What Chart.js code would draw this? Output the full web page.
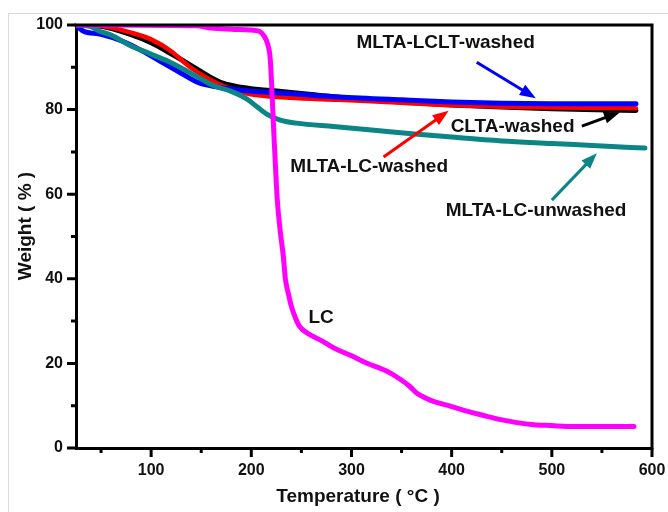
<!DOCTYPE html>
<html lang="en">
  <head>
    <meta charset="UTF-8" />
    <title>TGA curves</title>
    <style>
      body {
        margin: 0;
        background: #ffffff;
        font-family: "Liberation Sans", Arial, sans-serif;
      }
      .frame {
        position: absolute;
        left: 8px;
        top: 13px;
        width: 700px;
        height: 600px;
        border: 1px solid #d9d9d9;
      }
      #tga {
        position: absolute;
        left: 0;
        top: 0;
      }
    </style>
  </head>
  <body>
    <div class="frame"></div>
    <canvas id="tga" width="668" height="512"></canvas>

    <script src="https://cdn.jsdelivr.net/npm/chart.js"></script>
    <script>
      // Temperature (°C) / weight (%)
      const lcTemp = [25, 145, 160, 180, 200, 208, 213, 216, 219, 221, 223, 226, 229, 232, 234, 237, 240, 244, 248, 255, 270, 282, 300, 315, 335, 349, 358, 365, 375, 382, 400, 415, 430, 449, 465, 482, 500, 515, 582];
      const lcWeight = [100, 99.8, 99.3, 99.0, 98.8, 98.5, 97.3, 95.7, 91.7, 82.2, 72, 58.5, 51, 45.3, 40, 36.5, 33.5, 30.8, 28.8, 27.3, 25.4, 23.7, 21.8, 20.1, 18.2, 16.2, 14.6, 13.0, 11.7, 11.0, 9.8, 8.7, 7.8, 6.7, 6.0, 5.5, 5.3, 5.1, 5.1];

      const lcltTemp = [25, 32, 50, 70, 90, 110, 130, 148, 165, 198, 238, 288, 350, 400, 450, 500, 584];
      const lcltWeight = [100, 98.6, 97.8, 96.3, 94.0, 91.3, 88.6, 86.3, 85.4, 84.4, 83.8, 83.0, 82.3, 81.8, 81.5, 81.4, 81.4];

      const lcWashedTemp = [25, 55, 80, 100, 120, 138, 158, 178, 198, 238, 288, 350, 400, 450, 500, 584];
      const lcWashedWeight = [100, 99.6, 98.2, 96.6, 93.8, 90.2, 87.2, 85.0, 83.7, 82.8, 82.3, 81.6, 81.0, 80.7, 80.5, 80.3];

      const cltaTemp = [25, 50, 80, 100, 120, 138, 158, 170, 198, 230, 260, 300, 350, 400, 450, 500, 584];
      const cltaWeight = [100, 99.7, 97.7, 95.8, 93.2, 90.7, 87.8, 86.4, 85.0, 84.3, 83.6, 82.6, 81.8, 81.1, 80.6, 80.2, 79.8];

      const unwashedTemp = [25, 40, 48, 60, 78, 98, 118, 148, 160, 180, 195, 205, 215, 228, 245, 282, 320, 360, 400, 450, 500, 550, 593];
      const unwashedWeight = [100, 99.6, 98.6, 97.6, 95.3, 93.3, 91.3, 87.5, 85.9, 84.3, 82.6, 80.8, 79.0, 77.6, 76.8, 76.0, 75.2, 74.3, 73.5, 72.6, 72.0, 71.4, 70.9];

      const xTicks = [100, 200, 300, 400, 500, 600];
      const xMinorTicks = [50, 150, 250, 350, 450, 550];
      const yTicks = [0, 20, 40, 60, 80, 100];
      const yMinorTicks = [10, 30, 50, 70, 90];

      // label text with its anchor (temperature, weight)
      const noteText = ["MLTA-LCLT-washed", "CLTA-washed", "MLTA-LC-washed", "MLTA-LC-unwashed", "LC"];
      const noteAt = [[305, 95.8], [399, 75.9], [239, 66.6], [394, 56], [257, 30.7]];

      // arrows: from -> to, in data units
      const arrowFrom = [[425, 91.2], [530, 76.1], [332, 68.8], [500, 58.6]];
      const arrowTo = [[484, 82.7], [568, 79.4], [397, 79.7], [545, 69.7]];
      const arrowColor = ["#0000ff", "#000000", "#ff0000", "#0b8585"];

      const toPoints = (xs, ys) => xs.map((x, i) => ({ x: x, y: ys[i] }));

      function drawArrow(ctx, x1, y1, x2, y2, color) {
        const ang = Math.atan2(y2 - y1, x2 - x1);
        const head = 16;
        const half = 6;
        ctx.save();
        ctx.strokeStyle = color;
        ctx.fillStyle = color;
        ctx.lineWidth = 3;
        ctx.beginPath();
        ctx.moveTo(x1, y1);
        ctx.lineTo(x2 - Math.cos(ang) * head * 0.8, y2 - Math.sin(ang) * head * 0.8);
        ctx.stroke();
        ctx.beginPath();
        ctx.moveTo(x2, y2);
        ctx.lineTo(
          x2 - Math.cos(ang) * head - Math.sin(ang) * half,
          y2 - Math.sin(ang) * head + Math.cos(ang) * half
        );
        ctx.lineTo(
          x2 - Math.cos(ang) * head + Math.sin(ang) * half,
          y2 - Math.sin(ang) * head - Math.cos(ang) * half
        );
        ctx.closePath();
        ctx.fill();
        ctx.restore();
      }

      const decor = {
        id: "decor",
        afterDraw(chart) {
          const ctx = chart.ctx;
          const xs = chart.scales.x;
          const ys = chart.scales.y;
          const area = chart.chartArea;

          ctx.save();
          ctx.strokeStyle = "#000";
          ctx.lineWidth = 3;
          ctx.lineCap = "square";

          // top and right frame
          ctx.beginPath();
          ctx.moveTo(area.left, area.top);
          ctx.lineTo(area.right, area.top);
          ctx.lineTo(area.right, area.bottom);
          ctx.stroke();

          // outward ticks
          ctx.lineCap = "butt";
          ctx.beginPath();
          xTicks.forEach((v) => {
            const px = xs.getPixelForValue(v);
            ctx.moveTo(px, area.bottom);
            ctx.lineTo(px, area.bottom + 9);
          });
          xMinorTicks.forEach((v) => {
            const px = xs.getPixelForValue(v);
            ctx.moveTo(px, area.bottom);
            ctx.lineTo(px, area.bottom + 5);
          });
          yTicks.forEach((v) => {
            const py = ys.getPixelForValue(v);
            ctx.moveTo(area.left, py);
            ctx.lineTo(area.left - 9, py);
          });
          yMinorTicks.forEach((v) => {
            const py = ys.getPixelForValue(v);
            ctx.moveTo(area.left, py);
            ctx.lineTo(area.left - 5, py);
          });
          ctx.stroke();

          // arrows
          arrowFrom.forEach((a, i) => {
            const b = arrowTo[i];
            drawArrow(
              ctx,
              xs.getPixelForValue(a[0]),
              ys.getPixelForValue(a[1]),
              xs.getPixelForValue(b[0]),
              ys.getPixelForValue(b[1]),
              arrowColor[i]
            );
          });

          // curve labels
          ctx.fillStyle = "#111";
          ctx.font = "bold 19px 'Liberation Sans', Arial, sans-serif";
          ctx.textAlign = "left";
          ctx.textBaseline = "middle";
          noteText.forEach((t, i) => {
            ctx.fillText(t, xs.getPixelForValue(noteAt[i][0]), ys.getPixelForValue(noteAt[i][1]));
          });

          // axis titles
          ctx.textAlign = "center";
          ctx.fillText("Temperature ( °C )", 358, 497);
          ctx.translate(26, 226);
          ctx.rotate(-Math.PI / 2);
          ctx.fillText("Weight ( % )", 0, 0);
          ctx.restore();
        },
      };

      const tickFont = { family: "'Liberation Sans', Arial, sans-serif", size: 16, weight: "bold" };

      new Chart(document.getElementById("tga"), {
        type: "line",
        data: {
          datasets: [
            { label: "LC", data: toPoints(lcTemp, lcWeight), borderColor: "#ff00ff", borderWidth: 5, order: 0 },
            { label: "MLTA-LC-unwashed", data: toPoints(unwashedTemp, unwashedWeight), borderColor: "#0b8585", borderWidth: 5, order: 1 },
            { label: "MLTA-LCLT-washed", data: toPoints(lcltTemp, lcltWeight), borderColor: "#0000ff", borderWidth: 5, order: 2 },
            { label: "MLTA-LC-washed", data: toPoints(lcWashedTemp, lcWashedWeight), borderColor: "#ff0000", borderWidth: 4.5, order: 3 },
            { label: "CLTA-washed", data: toPoints(cltaTemp, cltaWeight), borderColor: "#000000", borderWidth: 5, order: 4 },
          ],
        },
        options: {
          responsive: false,
          animation: false,
          layout: { padding: { top: 25, right: 16, left: 0, bottom: 0 } },
          elements: {
            point: { radius: 0 },
            line: { cubicInterpolationMode: "monotone", borderCapStyle: "round", borderJoinStyle: "round" },
          },
          plugins: { legend: { display: false }, tooltip: { enabled: false } },
          scales: {
            x: {
              type: "linear",
              min: 25,
              max: 600,
              afterBuildTicks: (s) => { s.ticks = xTicks.map((v) => ({ value: v })); },
              afterFit: (s) => {
                s.height = 64;
                s.paddingLeft = 0;
                s.paddingRight = 0;
              },
              grid: { display: false, drawTicks: false },
              border: { display: true, color: "#000", width: 3 },
              ticks: { color: "#111", font: tickFont, padding: 13, maxRotation: 0 },
            },
            y: {
              type: "linear",
              min: 0,
              max: 100,
              afterBuildTicks: (s) => { s.ticks = yTicks.map((v) => ({ value: v })); },
              afterFit: (s) => {
                s.width = 76;
                s.paddingTop = 0;
                s.paddingBottom = 0;
              },
              grid: { display: false, drawTicks: false },
              border: { display: true, color: "#000", width: 3 },
              ticks: { color: "#111", font: tickFont, padding: 13 },
            },
          },
        },
        plugins: [decor],
      });
    </script>
  </body>
</html>
